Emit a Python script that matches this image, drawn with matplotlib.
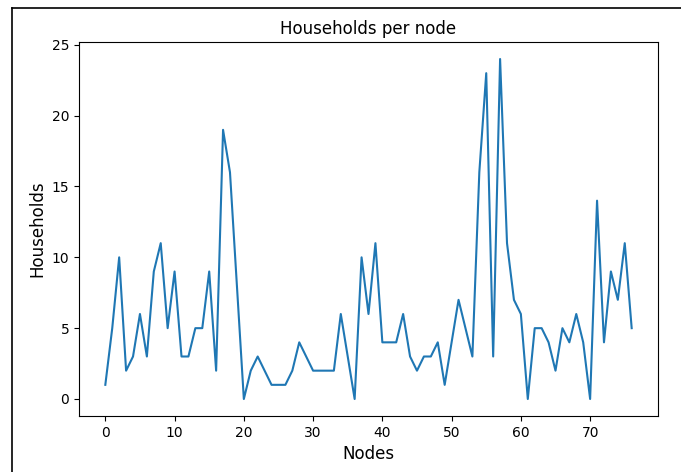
import matplotlib
matplotlib.use("Agg")
import matplotlib.pyplot as plt
from matplotlib.lines import Line2D

households = [1, 5, 10, 2, 3, 6, 3, 9, 11, 5,
              9, 3, 3, 5, 5, 9, 2, 19, 16, 8,
              0, 2, 3, 2, 1, 1, 1, 2, 4, 3,
              2, 2, 2, 2, 6, 3, 0, 10, 6, 11,
              4, 4, 4, 6, 3, 2, 3, 3, 4, 1,
              4, 7, 5, 3, 16, 23, 3, 24, 11, 7,
              6, 0, 5, 5, 4, 2, 5, 4, 6, 4,
              0, 14, 4, 9, 7, 11, 5]
nodes = list(range(len(households)))

title = "Households per node"
xlabel = "Nodes"
ylabel = "Households"

fig = plt.figure(figsize=(6.81, 4.72), dpi=100)
ax = fig.add_axes([79/681, 1-416/472, (658-79)/681, (416-42)/472])
ax.plot(nodes, households, color="#1f77b4", linewidth=1.5)
ax.set_title(title, fontsize=12)
ax.set_xlabel(xlabel, fontsize=12)
ax.set_ylabel(ylabel, fontsize=12)
ax.set_xticks([0, 10, 20, 30, 40, 50, 60, 70])
ax.set_yticks([0, 5, 10, 15, 20, 25])
ax.tick_params(labelsize=10)

# screenshot frame lines (left and top)
fig.add_artist(Line2D([11.5/681, 11.5/681], [0, 1-7.5/472], transform=fig.transFigure, color="black", linewidth=1.2))
fig.add_artist(Line2D([11.5/681, 1], [1-7.5/472, 1-7.5/472], transform=fig.transFigure, color="black", linewidth=1.2))

fig.savefig("out.png", dpi=100)
